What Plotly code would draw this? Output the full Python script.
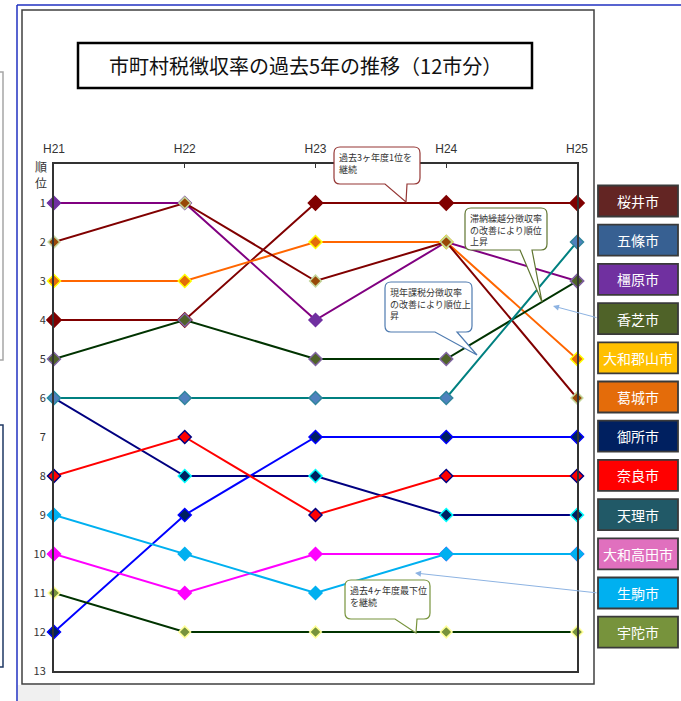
import plotly.graph_objects as go

# Fiscal years (Heisei) on the horizontal axis
years = ["H21", "H22", "H23", "H24", "H25"]
rank_ticks = list(range(1, 14))

# Collection-rate ranking of each city per year
sakurai = [4, 4, 1, 1, 1]
gojo = [6, 6, 6, 6, 2]
kashihara = [1, 1, 4, 2, 3]
kashiba = [5, 4, 5, 5, 3]
yamatokoriyama = [3, 3, 2, 2, 5]
katsuragi = [2, 1, 3, 2, 6]
gose = [12, 9, 7, 7, 7]
nara = [8, 7, 9, 8, 8]
tenri = [6, 8, 8, 9, 9]
yamatotakada = [10, 11, 10, 10, 10]
ikoma = [9, 10, 11, 10, 10]
uda = [11, 12, 12, 12, 12]

legend_names = ["桜井市", "五條市", "橿原市", "香芝市", "大和郡山市", "葛城市",
                "御所市", "奈良市", "天理市", "大和高田市", "生駒市", "宇陀市"]
legend_colors = ["#632523", "#376092", "#7030A0", "#4F6228", "#FFC000", "#E46C0A",
                 "#002060", "#FF0000", "#215967", "#E070BE", "#00B0F0", "#77933C"]

# name, ranks, line colour, marker fill, marker outline, marker size
series = [
    ("天理市", tenri, "#000080", "#002060", "#00FFFF", 10),
    ("桜井市", sakurai, "#800000", "#800000", "#800000", 11),
    ("橿原市", kashihara, "#800080", "#7030A0", "#7030A0", 10),
    ("大和郡山市", yamatokoriyama, "#FF6600", "#E46C0A", "#FFFF00", 10),
    ("香芝市", kashiba, "#003300", "#4F6228", "#8064A2", 10),
    ("葛城市", katsuragi, "#800000", "#984807", "#C3D69B", 9),
    ("五條市", gojo, "#008080", "#4F81BD", "#31859C", 10),
    ("御所市", gose, "#0000FF", "#002060", "#0000FF", 10),
    ("奈良市", nara, "#FF0000", "#FF0000", "#000080", 10),
    ("大和高田市", yamatotakada, "#FF00FF", "#FF00FF", "#FF00FF", 10),
    ("生駒市", ikoma, "#00B0F0", "#00B0F0", "#00B0F0", 10),
    ("宇陀市", uda, "#003300", "#77933C", "#FFFF99", 9),
]

W, H = 681, 701
L, R, T, B = 54, 577, 164, 671
JP = "Noto Sans CJK JP"


def px(x):
    return (x - L) / (R - L)


def py(y):
    return (B - y) / (B - T)


fig = go.Figure()
for name, ranks, lc, mc, oc, ms in series:
    fig.add_trace(go.Scatter(
        x=list(range(len(years))), y=ranks, name=name, mode="lines+markers",
        line=dict(color=lc, width=2),
        marker=dict(symbol="diamond", size=ms, color=mc, line=dict(color=oc, width=1.5)),
        cliponaxis=False, showlegend=False,
    ))

shapes = []
annotations = []

# sheet background pieces around the chart object
shapes.append(dict(type="rect", xref="paper", yref="paper", x0=px(-5), x1=px(3), y0=py(360), y1=py(72),
                   line=dict(color="#A6A6A6", width=1.5), fillcolor="rgba(0,0,0,0)", layer="below"))
shapes.append(dict(type="rect", xref="paper", yref="paper", x0=px(-5), x1=px(3), y0=py(667), y1=py(425),
                   line=dict(color="#1F3864", width=1.5), fillcolor="rgba(0,0,0,0)", layer="below"))
shapes.append(dict(type="rect", xref="paper", yref="paper", x0=px(18), x1=px(60), y0=py(702), y1=py(685),
                   line=dict(width=0), fillcolor="#F0F0F0", layer="below"))
shapes.append(dict(type="line", xref="paper", yref="paper", x0=px(17), x1=px(690), y0=py(5), y1=py(5),
                   line=dict(color="#2030C0", width=1.5)))
shapes.append(dict(type="line", xref="paper", yref="paper", x0=px(17), x1=px(17), y0=py(5), y1=py(710),
                   line=dict(color="#2030C0", width=1.5)))
# chart frame
shapes.append(dict(type="rect", xref="paper", yref="paper", x0=px(22), x1=px(594), y0=py(684), y1=py(10),
                   line=dict(color="#404040", width=1.5), fillcolor="rgba(0,0,0,0)", layer="below"))

# title box
shapes.append(dict(type="rect", xref="paper", yref="paper", x0=px(78), x1=px(532), y0=py(88), y1=py(43),
                   line=dict(color="#000000", width=2.5), fillcolor="white"))
annotations.append(dict(xref="paper", yref="paper", x=px(305), y=py(66), text="市町村税徴収率の過去5年の推移（12市分）",
                        showarrow=False, font=dict(family=JP, size=20, color="#111111"),
                        xanchor="center", yanchor="middle"))

# axis caption
annotations.append(dict(xref="paper", yref="paper", x=px(41), y=py(174), text="順<br>位",
                        showarrow=False, font=dict(family=JP, size=12, color="#333333"),
                        xanchor="center", yanchor="middle"))

# city name boxes
for i, (nm, col) in enumerate(zip(legend_names, legend_colors)):
    top = 185.5 + i * 39.2
    shapes.append(dict(type="rect", xref="paper", yref="paper", x0=px(598), x1=px(678),
                       y0=py(top + 31), y1=py(top), line=dict(color="#3A3A3A", width=1.8), fillcolor=col))
    annotations.append(dict(xref="paper", yref="paper", x=px(638), y=py(top + 15.5), text=nm,
                            showarrow=False, font=dict(family=JP, size=14, color="white"),
                            xanchor="center", yanchor="middle"))


def callout(x0, y0, x1, y1, b0, b1, tip, color, text):
    r = 6
    pts = [
        f"M{px(x0 + r)},{py(y0)}",
        f"L{px(x1 - r)},{py(y0)}",
        f"Q{px(x1)},{py(y0)} {px(x1)},{py(y0 + r)}",
        f"L{px(x1)},{py(y1 - r)}",
        f"Q{px(x1)},{py(y1)} {px(x1 - r)},{py(y1)}",
        f"L{px(b1)},{py(y1)}",
        f"L{px(tip[0])},{py(tip[1])}",
        f"L{px(b0)},{py(y1)}",
        f"L{px(x0 + r)},{py(y1)}",
        f"Q{px(x0)},{py(y1)} {px(x0)},{py(y1 - r)}",
        f"L{px(x0)},{py(y0 + r)}",
        f"Q{px(x0)},{py(y0)} {px(x0 + r)},{py(y0)}",
        "Z",
    ]
    shapes.append(dict(type="path", xref="paper", yref="paper", path=" ".join(pts),
                       line=dict(color=color, width=1.2), fillcolor="white"))
    annotations.append(dict(xref="paper", yref="paper", x=px(x0 + 3), y=py(y0 + 2), text=text,
                            showarrow=False, align="left", xanchor="left", yanchor="top",
                            font=dict(family=JP, size=9, color="#333333")))


callout(334, 147, 420, 184, 385, 407, (406, 202), "#953735", "過去3ヶ年度1位を<br>継続")
callout(465, 208, 547, 250, 520, 532, (542, 302), "#5F7530", "滞納繰越分徴収率<br>の改善により順位<br>上昇")
callout(385, 282, 472, 332, 435, 457, (477, 355), "#4F7BB0", "現年課税分徴収率<br>の改善により順位上<br>昇")
callout(345, 580, 430, 619, 395, 417, (416, 633), "#77933C", "過去4ヶ年度最下位<br>を継続")

# pointer arrows from the city boxes
for head, tail in [((553, 306), (598, 318)), ((415, 573), (598, 593))]:
    annotations.append(dict(xref="paper", yref="paper", x=px(head[0]), y=py(head[1]), text="",
                            showarrow=True, arrowhead=2, arrowsize=1.2, arrowwidth=1,
                            arrowcolor="#8DB3E2", ax=tail[0] - head[0], ay=tail[1] - head[1]))

fig.update_layout(
    width=W, height=H,
    margin=dict(l=L, r=W - R, t=T, b=H - B, pad=0),
    paper_bgcolor="white", plot_bgcolor="white",
    shapes=shapes, annotations=annotations,
    xaxis=dict(range=[0, 4], side="top", tickmode="array", tickvals=list(range(len(years))),
               ticktext=years, showgrid=False, zeroline=False, showline=True, mirror=True,
               linecolor="#333333", linewidth=2, ticks="inside", ticklen=4, tickcolor="#333333",
               tickfont=dict(family="Liberation Sans", size=12, color="#333333"),
               ticklabelstandoff=4, fixedrange=True),
    yaxis=dict(range=[13, 0], tickmode="array", tickvals=rank_ticks, ticktext=[str(v) for v in rank_ticks],
               showgrid=False, zeroline=False, showline=True, mirror=True,
               linecolor="#333333", linewidth=2, ticks="",
               tickfont=dict(family=JP, size=11, color="#333333"),
               ticklabelstandoff=4, fixedrange=True),
)

fig.write_html("out.html")
